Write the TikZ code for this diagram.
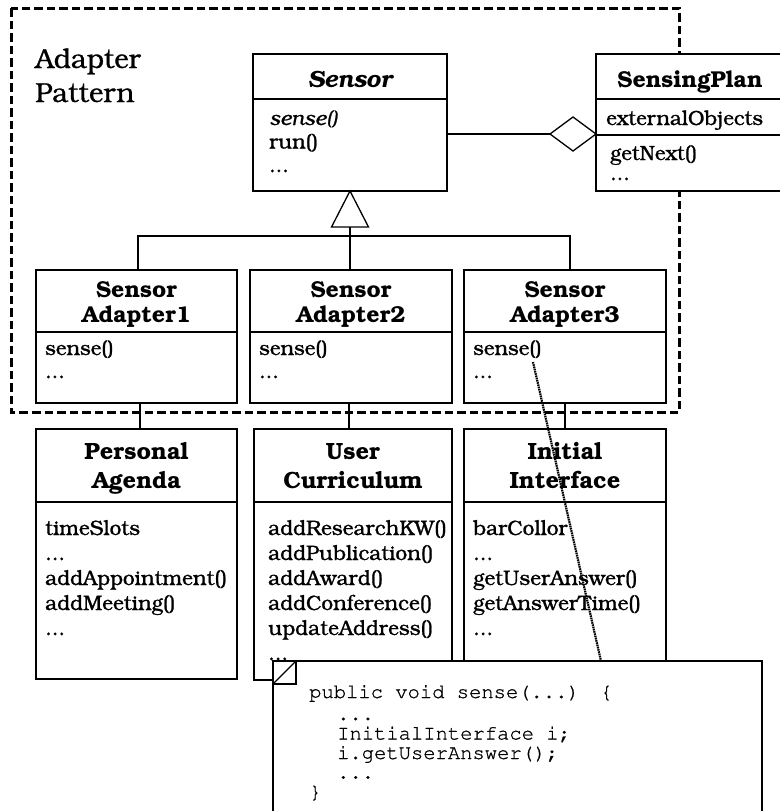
\documentclass[tikz,border=0pt]{standalone}
\usepackage[T1]{fontenc}
\usepackage{bookman}
\usetikzlibrary{calc}

% stacked text lines, aligned on the baseline of the first line
\newcommand{\leftrows}[1]{\begin{tabular}[t]{@{}l@{}}#1\end{tabular}}
\newcommand{\centerrows}[1]{\begin{tabular}[t]{@{}c@{}}#1\end{tabular}}
% slightly heavier strokes for the light book face
\newcommand{\heavy}[1]{\special{pdf:literal direct 2 Tr 0.22 w}#1\special{pdf:literal direct 0 Tr}}
\newcommand{\heavytt}[1]{\special{pdf:literal direct 2 Tr 0.18 w}#1\special{pdf:literal direct 0 Tr}}

\begin{document}
\begin{tikzpicture}[x=1pt,y=-1pt,
  umlbox/.style={draw, line width=1.3pt, fill=white, inner sep=0pt, outer sep=0pt, anchor=north west},
  conn/.style={line width=1.3pt},
  frame/.style={line width=3pt, dash pattern=on 8.5pt off 4pt},
  title/.style={inner sep=0pt, anchor=base, font=\fontsize{23}{25}\selectfont\bfseries},
  bigtitle/.style={inner sep=0pt, anchor=base, font=\fontsize{23.5}{29}\selectfont\bfseries},
  members/.style={inner sep=0pt, anchor=base west, font=\fontsize{20.5}{23.5}\selectfont},
  lmembers/.style={inner sep=0pt, anchor=base west, font=\fontsize{20.8}{25}\selectfont},
  code/.style={inner sep=0pt, anchor=base west, font=\fontsize{20.5}{19.5}\selectfont\ttfamily},
  calltrace/.style={line width=2.2pt, dash pattern=on 1.6pt off 0.7pt},
]
\useasboundingbox (0,0) rectangle (779,811);

% pattern frame
\draw[frame] (11,8) rectangle (679,412);
\node[inner sep=0pt, anchor=base west, font=\fontsize{27.5}{34}\selectfont] (caption) at (35,68)
  {\heavy{\leftrows{Adapter\\Pattern}}};

% abstract Sensor class
\node[umlbox, minimum width=194pt, minimum height=137pt] (sensor) at (253,54) {};
\draw[conn] (sensor.west |- 0,99) -- (sensor.east |- 0,99);
\node[title, font=\fontsize{23.5}{25}\selectfont\bfseries\itshape] (sensorT) at (350,87) {Sensor};
\node[members] (sensorM) at (269,125) {\heavy{\leftrows{\textit{sense()}\\run()\\...}}};

% SensingPlan class
\node[umlbox, minimum width=190pt, minimum height=137pt] (plan) at (596,54) {};
\draw[conn] (plan.west |- 0,99) -- (plan.east |- 0,99);
\draw[conn] (plan.west |- 0,135) -- (plan.east |- 0,135);
\node[title] (planT) at (690,87) {SensingPlan};
\node[members] (planA) at (606,125) {\heavy{externalObjects}};
\node[members, font=\fontsize{20.5}{20}\selectfont] (planM) at (610,160) {\heavy{\leftrows{getNext()\\...}}};

% aggregation Sensor -- SensingPlan
\coordinate (diaR) at (plan.west |- 0,134);
\coordinate (diaL) at ($(diaR)+(-46,0)$);
\draw[conn] (sensor.east |- diaR) -- (diaL);
\draw[conn, fill=white] (diaL) -- ($(diaL)+(23,-17)$) -- (diaR) -- ($(diaL)+(23,17)$) -- cycle;

% adapter classes
\foreach \n/\x/\w/\k in {a1/36/201/1, a2/250/202/2, a3/464/202/3}{
  \node[umlbox, minimum width=\w pt, minimum height=133pt] (\n) at (\x,270) {};
  \draw[conn] (\n.west |- 0,332) -- (\n.east |- 0,332);
  \node[title] (\n T) at ($(\n.north)+(0,27)$) {\centerrows{Sensor\\Adapter\k}};
  \node[members, font=\fontsize{20.5}{23}\selectfont] (\n M) at ($(\n.north west)+(9,85)$) {\heavy{\leftrows{sense()\\...}}};
}

% generalization
\coordinate (apex) at (sensor.south);
\coordinate (bus) at (350,236);
\draw[conn] ($(apex)+(0,36)$) -- (bus);
\draw[conn] ([xshift=1.5pt]a1.north) |- (bus) -| ([xshift=5pt]a3.north);
\draw[conn] (bus) -- (a2.north -| bus);
\draw[conn, fill=white] (apex) -- ($(apex)+(-18.5,36)$) -- ($(apex)+(18.5,36)$) -- cycle;

% adapted classes
\node[umlbox, minimum width=201pt, minimum height=250pt] (agenda) at (36,429) {};
\node[umlbox, minimum width=198pt, minimum height=251pt] (curr) at (254,429) {};
\node[umlbox, minimum width=202pt, minimum height=280pt] (iface) at (464,429) {};
\foreach \n in {agenda, curr, iface}{
  \draw[conn] (\n.west |- 0,502) -- (\n.east |- 0,502);
}
\node[bigtitle] (agendaT) at ($(agenda.north)+(0,30)$) {\centerrows{Personal\\Agenda}};
\node[bigtitle] (currT) at ($(curr.north)+(0,30)$) {\centerrows{User\\Curriculum}};
\node[bigtitle] (ifaceT) at ($(iface.north)+(0,30)$) {\centerrows{Initial\\Interface}};
\node[lmembers] (agendaM) at (45,535)
  {\heavy{\leftrows{timeSlots\\...\\addAppointment()\\addMeeting()\\...}}};
\node[lmembers] (currM) at (268,535)
  {\heavy{\leftrows{addResearchKW()\\addPublication()\\addAward()\\addConference()\\updateAddress()\\...}}};
\node[lmembers] (ifaceM) at (473,535)
  {\heavy{\leftrows{barCollor\\...\\getUserAnswer()\\getAnswerTime()\\...}}};

% adapter -> adaptee links
\draw[conn] ([xshift=3.5pt]a1.south) -- ([xshift=3.5pt]agenda.north);
\draw[conn] ([xshift=-2pt]a2.south) -- ([xshift=-2pt]a2.south |- curr.north);
\draw[conn] (a3.south) -- (iface.north);

% call trace from SensorAdapter3.sense() to its code note
\coordinate (callsite) at (533,362);
\coordinate (callnote) at (601,661);
\draw[calltrace] (callsite) -- (callnote);

% code note
\node[umlbox, minimum width=489pt, minimum height=200pt] (note) at (273,661) {};
\draw[line width=1.3pt] (note.north west) rectangle ($(note.north west)+(23,23)$);
\draw[line width=1.3pt] ($(note.north west)+(0,23)$) -- ($(note.north west)+(23,0)$);
\node[code] (noteT) at (309,698)
  {\heavytt{\leftrows{public void sense(...)\hspace{-4pt} \{\\[2.5pt]
   \hspace*{28pt}...\\
   \hspace*{28pt}InitialInterface i;\\
   \hspace*{28pt}i.getUserAnswer();\\
   \hspace*{28pt}...\\
   \}}}};
\end{tikzpicture}
\end{document}
